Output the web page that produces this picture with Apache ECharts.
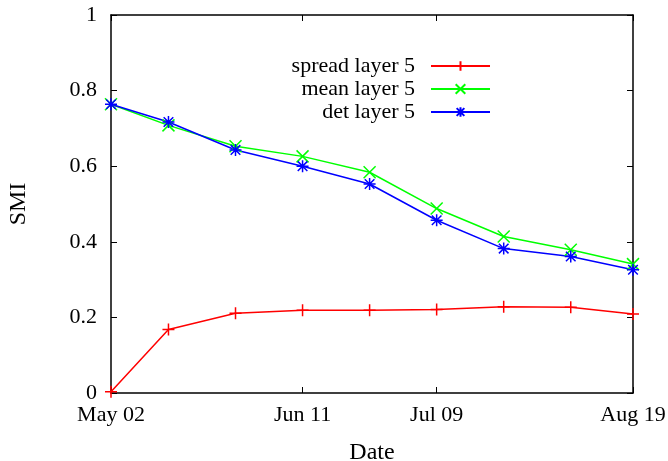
<!DOCTYPE html>
<html>
<head>
<meta charset="utf-8">
<script src="https://cdn.jsdelivr.net/npm/echarts@6/dist/echarts.min.js"></script>
<style>html,body{margin:0;padding:0;background:#fff}#c{width:668px;height:461px}</style>
</head>
<body>
<div id="c"></div>
<script>
// ---- data ----
var startDate = "2000-05-02";
var dates = ["2000-05-02","2000-05-14","2000-05-28","2000-06-11","2000-06-25","2000-07-09","2000-07-23","2000-08-06","2000-08-19"];
var spread = [0.003, 0.168, 0.211, 0.219, 0.219, 0.221, 0.228, 0.227, 0.209];
var mean   = [0.764, 0.708, 0.653, 0.626, 0.584, 0.488, 0.414, 0.379, 0.341];
var det    = [0.764, 0.717, 0.643, 0.600, 0.553, 0.457, 0.382, 0.361, 0.326];
var xTickDates = ["2000-05-02","2000-06-11","2000-07-09","2000-08-19"];
var xTickLabels = ["May 02","Jun 11","Jul 09","Aug 19"];
var yTicks = [0, 0.2, 0.4, 0.6, 0.8, 1];
var seriesNames = ["spread layer 5","mean layer 5","det layer 5"];

function dayOf(s){ return Math.round((Date.parse(s) - Date.parse(startDate)) / 86400000); }
var xDays = dates.map(dayOf);
var tickDays = xTickDates.map(dayOf);
var labelMap = {};
tickDays.forEach(function(d,i){ labelMap[d] = xTickLabels[i]; });

var FONT = '"Liberation Serif", "DejaVu Serif", serif';
var PLUS = 'path://M5 0 L5 10 M0 5 L10 5';
var CROSS = 'path://M0 0 L10 10 M10 0 L0 10';
var STAR = 'path://M5 0 L5 10 M0 5 L10 5 M1 1 L9 9 M9 1 L1 9';

function mk(name, vals, color, sym){
  return {
    name: name, type: 'line', data: xDays.map(function(d,i){ return [d, vals[i]]; }),
    symbol: sym, symbolSize: 12, showAllSymbol: true,
    lineStyle: { color: color, width: 1.5 },
    itemStyle: { color: 'rgba(0,0,0,0)', borderColor: color, borderWidth: 1.5 },
    emphasis: { disabled: true }, animation: false, z: 3
  };
}

var axisCommon = {
  axisLine: { show: true, onZero: false, lineStyle: { color: '#000', width: 1.5 } },
  axisTick: { show: true, inside: true, length: 6, lineStyle: { color: '#000', width: 1 } },
  splitLine: { show: false }
};

var chart = echarts.init(document.getElementById('c'), null, { renderer: 'canvas' });
chart.setOption({
  backgroundColor: '#fff',
  animation: false,
  grid: { left: 111, right: 35, top: 15, bottom: 68, containLabel: false, outerBoundsMode: 'none' },
  legend: {
    orient: 'vertical', right: 172, top: 50, align: 'right',
    itemWidth: 59, itemHeight: 12, itemGap: 1,
    data: seriesNames,
    textStyle: { fontFamily: FONT, fontSize: 22, color: '#000', lineHeight: 21, padding: [0, 11, 0, 0] }
  },
  xAxis: [
    Object.assign({}, axisCommon, {
      type: 'value', min: 0, max: tickDays[tickDays.length-1], position: 'bottom',
      name: 'Date', nameLocation: 'middle', nameGap: 48,
      nameTextStyle: { fontFamily: FONT, fontSize: 24, color: '#000' },
      axisTick: Object.assign({}, axisCommon.axisTick, { customValues: tickDays }),
      axisLabel: { customValues: tickDays, formatter: function(v){ return labelMap[v] || ''; },
        fontFamily: FONT, fontSize: 22, color: '#000', margin: 11 }
    }),
    Object.assign({}, axisCommon, {
      type: 'value', min: 0, max: tickDays[tickDays.length-1], position: 'top',
      axisTick: Object.assign({}, axisCommon.axisTick, { customValues: tickDays }),
      axisLabel: { show: false }
    })
  ],
  yAxis: [
    Object.assign({}, axisCommon, {
      type: 'value', min: 0, max: 1, interval: 0.2, position: 'left',
      name: 'SMI', nameLocation: 'middle', nameGap: 80, nameRotate: 90,
      nameTextStyle: { fontFamily: FONT, fontSize: 24, color: '#000' },
      axisLabel: { fontFamily: FONT, fontSize: 22, color: '#000', margin: 14,
        formatter: function(v){ return String(Math.round(v*10)/10); } }
    }),
    Object.assign({}, axisCommon, {
      type: 'value', min: 0, max: 1, interval: 0.2, position: 'right',
      axisLabel: { show: false }
    })
  ],
  series: [
    mk(seriesNames[0], spread, '#ff0000', PLUS),
    mk(seriesNames[1], mean, '#00ff00', CROSS),
    mk(seriesNames[2], det, '#0000ff', STAR)
  ]
});
</script>
</body>
</html>
